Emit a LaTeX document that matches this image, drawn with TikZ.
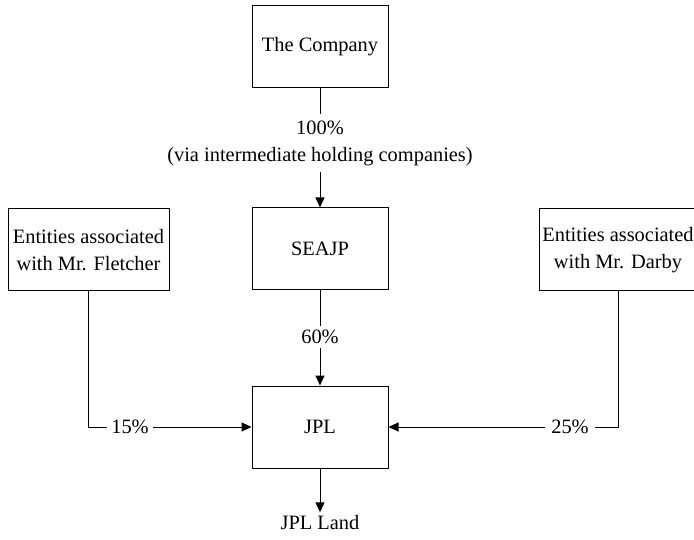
\documentclass[tikz,border=0pt]{standalone}
\usepackage{fontspec}
\setmainfont{Liberation Serif}
\usetikzlibrary{arrows.meta}
\begin{document}
\begin{tikzpicture}[x=1pt,y=-1pt,
  every node/.style={font=\fontsize{20.4}{27}\selectfont, align=center},
  entity/.style={draw, line width=1pt, minimum width=136pt, minimum height=82pt, inner sep=0pt},
  share/.style={inner xsep=5pt, inner ysep=4pt},
  link/.style={line width=1pt},
  own/.style={line width=1pt, -{Triangle[length=10pt,width=9pt]}}]
  \useasboundingbox (0,0) rectangle (694,540);
  \clip (0,0) rectangle (694,540);

  % ownership entities
  \node[entity] (company) at (320,46.5) {The Company};
  \node[entity] (seajp)   at (320,249)  {SEAJP};
  \node[entity] (jpl)     at (320,427)  {JPL};
  \node[entity, minimum width=161pt] (fletcher) at (88.5,250) {Entities associated\\with Mr. Fletcher};
  \node[entity, minimum width=158pt] (darby)    at (618,250)  {Entities associated\\with Mr. Darby};
  \node (land) at (320,523) {JPL Land};

  % shareholding labels
  \node[share, inner ysep=6pt] (p100) at (320,143) {100\%\\(via intermediate holding companies)};
  \node[share] (p60) at (320,337) {60\%};
  \node[share, inner xsep=4pt] (p15) at (130,427) {15\%};
  \node[share, inner xsep=6pt] (p25) at (570,427) {25\%};
  \coordinate (fcorner) at (fletcher.south |- p15.west);
  \coordinate (dcorner) at (darby.south |- p25.east);

  % connectors
  \draw[link] (company.south) -- (p100.north);
  \draw[own]  (p100.south) -- (seajp.north);
  \draw[link] (seajp.south) -- (p60.north);
  \draw[own]  (p60.south) -- (jpl.north);
  \draw[link] (fletcher.south) -- (fcorner) -- (p15.west);
  \draw[own]  (p15.east) -- (jpl.west);
  \draw[link] (darby.south) -- (dcorner) -- (p25.east);
  \draw[own]  (p25.west) -- (jpl.east);
  \draw[own]  (jpl.south) -- (land.north);
\end{tikzpicture}
\end{document}
